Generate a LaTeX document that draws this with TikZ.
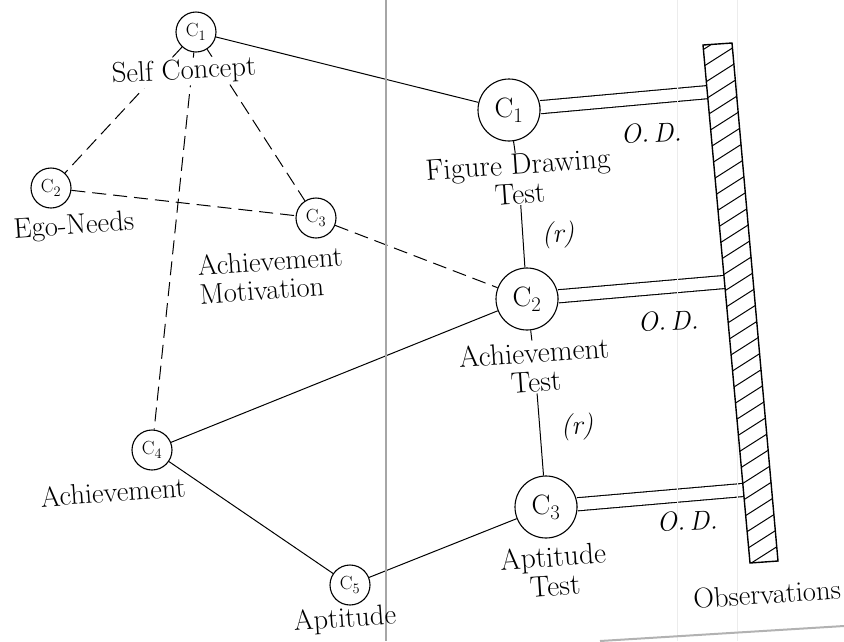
\documentclass[tikz,border=0pt]{standalone}
\usetikzlibrary{backgrounds,calc}
\begin{document}
\begin{tikzpicture}[x=1pt,y=-1pt,
  sc/.style={circle,draw,line width=1.1pt,fill=white,minimum size=40pt,inner sep=0pt,font=\fontsize{19}{19}\selectfont},
  bc/.style={circle,draw,line width=1.1pt,fill=white,minimum size=62pt,inner sep=0pt,font=\fontsize{28}{28}\selectfont},
  lbl/.style={font=\fontsize{28.5}{28.5}\selectfont,inner sep=1pt,rotate=4},
  rlbl/.style={font=\fontsize{29.5}{29.5}\selectfont,align=center,inner sep=1pt,rotate=4,fill=white},
  solidedge/.style={line width=1pt},
  dashedge/.style={line width=1pt,dash pattern=on 14pt off 7pt},
  dbl/.style={double,double distance=12pt,line width=1.1pt},
  od/.style={font=\itshape\fontsize{27}{27}\selectfont,rotate=3,inner sep=0pt},
  scanline/.style={gray!70,line width=1.2pt},
  faintline/.style={gray!15,line width=0.8pt}]
\useasboundingbox (0,0) rectangle (844,641);

% scan artefacts
\draw[scanline] (386,0) -- (386,641);
\draw[faintline] (677,0) -- (677,641);
\draw[faintline] (737,0) -- (737,641);
\draw[gray!60,line width=2pt] (600,641) -- (844,626);

% small concept circles
\node[sc] (c1) at (196,32) {C$_1$};
\node[sc] (c2) at (51,188) {C$_2$};
\node[sc] (c3) at (316,218) {C$_3$};
\node[sc] (c4) at (152,450) {C$_4$};
\node[sc] (c5) at (350,585) {C$_5$};

% big test circles
\node[bc] (b1) at (509,110) {C$_1$};
\node[bc] (b2) at (527,299) {C$_2$};
\node[bc] (b3) at (546,507) {C$_3$};

% labels
\node[lbl,fill=white,rotate=-1] (lsc) at (184,72) {Self Concept};
\node[lbl] (leg) at (74,227) {Ego-Needs};
\node[lbl,align=left] (lam) at (271,275) {Achievement\\Motivation};
\node[lbl] (lach) at (113,492) {Achievement};
\node[lbl] (lapt) at (345,620) {Aptitude};

\node[rlbl] (lfdt) at (519,179) {Figure Drawing\\Test};
\node[rlbl] (lat) at (535,367) {Achievement\\Test};
\node[rlbl] (lapt2) at (554,571) {Aptitude\\Test};
\node[lbl] (lobs) at (767,594) {Observations};

\node[od] (od1) at (651,133) {O.\,D.};
\node[od] (od2) at (668,321) {O.\,D.};
\node[od] (od3) at (687,521) {O.\,D.};
\node[od] (r1) at (558,235) {(r)};
\node[od] (r2) at (577,427) {(r)};

% observation bar
\coordinate (bTL) at (703,45);
\coordinate (bTR) at (732,43);
\coordinate (bBR) at (778,561);
\coordinate (bBL) at (750,563);
\coordinate (o1) at ($(bTL)!0.091!(bBL)$);
\coordinate (o2) at ($(bTL)!0.4575!(bBL)$);
\coordinate (o3) at ($(bTL)!0.859!(bBL)$);

\begin{pgfonlayer}{background}
  \draw[dashedge] (c1) -- (c2);
  \draw[dashedge] (c1) -- (c3);
  \draw[dashedge] (c1) -- (c4);
  \draw[dashedge] (c2) -- (c3);
  \draw[dashedge] (c3) -- (b2);
  \draw[solidedge] (c1) -- (b1);
  \draw[solidedge] (c4) -- (b2);
  \draw[solidedge] (c4) -- (c5);
  \draw[solidedge] (c5) -- (b3);
  \draw[solidedge] (b1) -- (lfdt) -- (b2);
  \draw[solidedge] (b2) -- (lat) -- (b3);
  \draw[dbl] (b1) -- (o1);
  \draw[dbl] (b2) -- (o2);
  \draw[dbl] (b3) -- (o3);
\end{pgfonlayer}

\fill[white] (bTL) -- (bTR) -- (bBR) -- (bBL) -- cycle;
\begin{scope}
  \clip (bTL) -- (bTR) -- (bBR) -- (bBL) -- cycle;
  \foreach \i in {0,...,36} {
    \draw[line width=1pt] (690,58+17*\i) -- ++(110,-70);
  }
\end{scope}
\draw[line width=1.4pt] (bTL) -- (bTR) -- (bBR) -- (bBL) -- cycle;
\end{tikzpicture}
\end{document}
